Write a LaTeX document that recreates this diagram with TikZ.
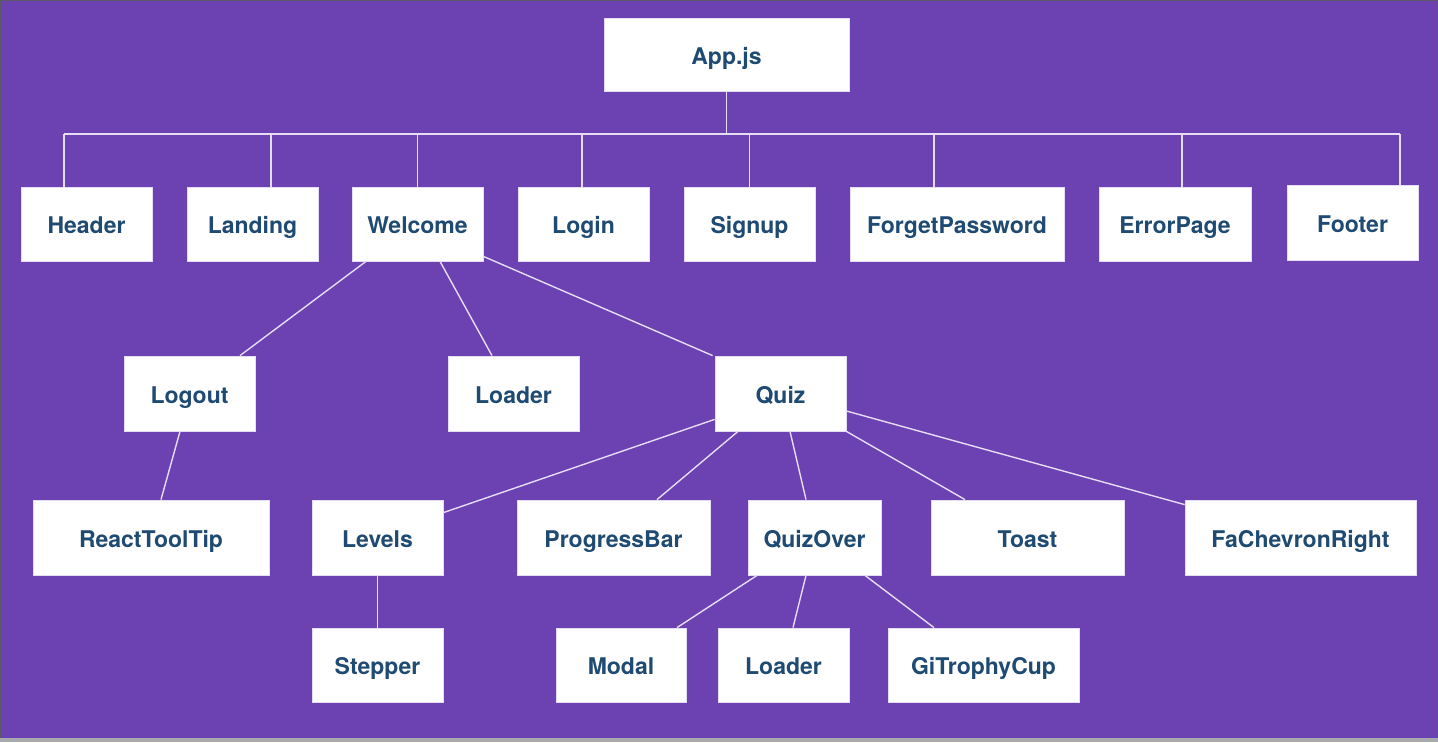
\documentclass[tikz,border=0pt]{standalone}
\usepackage{fontspec}
\setmainfont{TeX Gyre Heros}
\definecolor{bgpurple}{HTML}{6C41B1}
\definecolor{txtblue}{HTML}{1F4A72}
\definecolor{linec}{HTML}{E6DCF4}
\definecolor{edgegray}{HTML}{5C5866}
\definecolor{stripgray}{HTML}{A7A9AD}
\tikzset{
  box/.style={draw=linec, line width=0.8pt, fill=white, text=txtblue,
    font=\fontsize{23}{27}\selectfont\bfseries, inner sep=0pt,
    text height=19.5pt, text depth=0pt},
  conn/.style={draw=linec, line width=1.4pt}
}
\begin{document}
\begin{tikzpicture}[x=1pt,y=-1pt]
\useasboundingbox (0,0) rectangle (1438,742);
\fill[edgegray] (0,0) rectangle (1438,742);
\fill[bgpurple] (1,1) rectangle (1437,738);
\fill[stripgray] (0,738) rectangle (1438,742);
% row 0
\node[box, minimum width=245pt, minimum height=73pt] (app) at (726.5,54.5) {App.js};
% row 1
\node[box, minimum width=131pt, minimum height=74pt] (header) at (86.5,224) {Header};
\node[box, minimum width=131pt, minimum height=74pt] (landing) at (252.5,224) {Landing};
\node[box, minimum width=131pt, minimum height=74pt] (welcome) at (417.5,224) {Welcome};
\node[box, minimum width=131pt, minimum height=74pt] (login) at (583.5,224) {Login};
\node[box, minimum width=131pt, minimum height=74pt] (signup) at (749.5,224) {Signup};
\node[box, minimum width=214pt, minimum height=74pt] (forget) at (957,224) {ForgetPassword};
\node[box, minimum width=152pt, minimum height=74pt] (error) at (1175,224) {ErrorPage};
\node[box, minimum width=131pt, minimum height=75pt] (footer) at (1352.5,222.5) {Footer};
% row 2
\node[box, minimum width=131pt, minimum height=75pt] (logout) at (189.5,393.5) {Logout};
\node[box, minimum width=131pt, minimum height=75pt] (loader) at (513.5,393.5) {Loader};
\node[box, minimum width=131pt, minimum height=75pt] (quiz) at (780.5,393.5) {Quiz};
% row 3
\node[box, minimum width=236pt, minimum height=75pt] (tooltip) at (151,537.5) {ReactToolTip};
\node[box, minimum width=131pt, minimum height=75pt] (levels) at (377.5,537.5) {Levels};
\node[box, minimum width=193pt, minimum height=75pt] (progress) at (613.5,537.5) {ProgressBar};
\node[box, minimum width=133pt, minimum height=75pt] (quizover) at (814.5,537.5) {QuizOver};
\node[box, minimum width=193pt, minimum height=75pt] (toast) at (1027.5,537.5) {Toast};
\node[box, minimum width=231pt, minimum height=75pt] (chevron) at (1300.5,537.5) {FaChevronRight};
% row 4
\node[box, minimum width=131pt, minimum height=74pt] (stepper) at (377.5,665) {Stepper};
\node[box, minimum width=130pt, minimum height=74pt] (modal) at (621,665) {Modal};
\node[box, minimum width=131pt, minimum height=74pt] (loadertwo) at (783.5,665) {Loader};
\node[box, minimum width=191pt, minimum height=74pt] (trophy) at (983.5,665) {GiTrophyCup};
% bus
\coordinate (busL) at (64,134);
\coordinate (busR) at (1400,134);
\draw[conn] (busL) -- (busR);
\draw[conn] (app.south) -- (app.south |- busL);
\draw[conn] ([xshift=-22.5pt]header.north) -- ([xshift=-22.5pt]header.north |- busL);
\draw[conn] ([xshift=18.5pt]landing.north) -- ([xshift=18.5pt]landing.north |- busL);
\draw[conn] (welcome.north) -- (welcome.north |- busL);
\draw[conn] ([xshift=-1.5pt]login.north) -- ([xshift=-1.5pt]login.north |- busL);
\draw[conn] (signup.north) -- (signup.north |- busL);
\draw[conn] ([xshift=-23pt]forget.north) -- ([xshift=-23pt]forget.north |- busL);
\draw[conn] ([xshift=7pt]error.north) -- ([xshift=7pt]error.north |- busL);
\draw[conn] ([xshift=47.5pt]footer.north) -- ([xshift=47.5pt]footer.north |- busL);
% welcome children
\draw[conn] ([xshift=-51.5pt]welcome.south) -- ([xshift=50.5pt]logout.north);
\draw[conn] ([xshift=22.5pt]welcome.south) -- ([xshift=-21.5pt]loader.north);
\draw[conn] ([yshift=5pt]welcome.south east) -- ([xshift=-2pt]quiz.north west);
% logout child
\draw[conn] ([xshift=-9.5pt]logout.south) -- ([xshift=10pt]tooltip.north);
% quiz children
\draw[conn] ([yshift=12pt]quiz.south west) -- ([yshift=-13pt]levels.north east);
\draw[conn] ([xshift=-42.5pt]quiz.south) -- ([xshift=43.5pt]progress.north);
\draw[conn] ([xshift=9.5pt]quiz.south) -- ([xshift=-8.5pt]quizover.north);
\draw[conn] (quiz.south east) -- ([xshift=-62.5pt]toast.north);
\draw[conn] ([yshift=-17.5pt]quiz.east) -- ([yshift=-5pt]chevron.north west);
% levels child
\draw[conn] (levels.south) -- (stepper.north);
% quizover children
\draw[conn] ([xshift=-57.5pt]quizover.south) -- ([xshift=56pt]modal.north);
\draw[conn] ([xshift=-8.5pt]quizover.south) -- ([xshift=9.5pt]loadertwo.north);
\draw[conn] ([xshift=50.5pt]quizover.south) -- ([xshift=-49.5pt]trophy.north);
\end{tikzpicture}
\end{document}
